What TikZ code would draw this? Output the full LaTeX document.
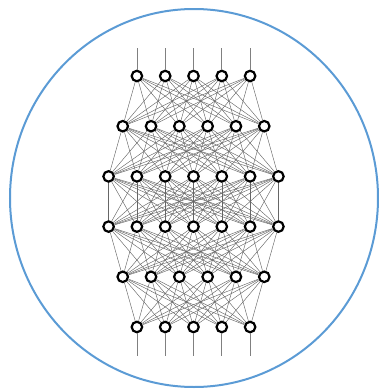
\documentclass[tikz,border=0pt]{standalone}
\usetikzlibrary{positioning}
\definecolor{ringblue}{RGB}{91,155,213}
\begin{document}
\begin{tikzpicture}[
    x=1pt, y=-1pt,
    neuron/.style={circle, draw, line width=2.2pt, fill=white, inner sep=0pt, minimum size=10.5pt},
    link/.style={draw=black!60, line width=0.45pt},
    lead/.style={draw=black!50, line width=0.8pt}
  ]
    \useasboundingbox (0,0) rectangle (379,389);
    \draw[ringblue, line width=2pt] (194,198) ellipse [x radius=184, y radius=189];

    % layers of neurons
    \foreach \a/\k in {1/5, 2/6, 3/7, 4/7, 5/6, 6/5} {
      \foreach \i in {1,...,\k} {
        \node[neuron] (n\a-\i) at ({193.5+(\i-(\k+1)/2)*28.3}, {76+(\a-1)*50.2}) {};
      }
    }

    % full connections between neighbouring layers
    \foreach \a/\k/\b/\j in {1/5/2/6, 2/6/3/7, 3/7/4/7, 4/7/5/6, 5/6/6/5} {
      \foreach \i in {1,...,\k} {
        \foreach \p in {1,...,\j} {
          \draw[link] (n\a-\i) -- (n\b-\p);
        }
      }
    }

    % inputs and outputs
    \foreach \i in {1,...,5} {
      \coordinate (in\i) at ({193.5+(\i-3)*28.3}, 48);
      \coordinate (out\i) at ({193.5+(\i-3)*28.3}, 356);
      \draw[lead] (in\i) -- (n1-\i);
      \draw[lead] (n6-\i) -- (out\i);
    }
\end{tikzpicture}
\end{document}
